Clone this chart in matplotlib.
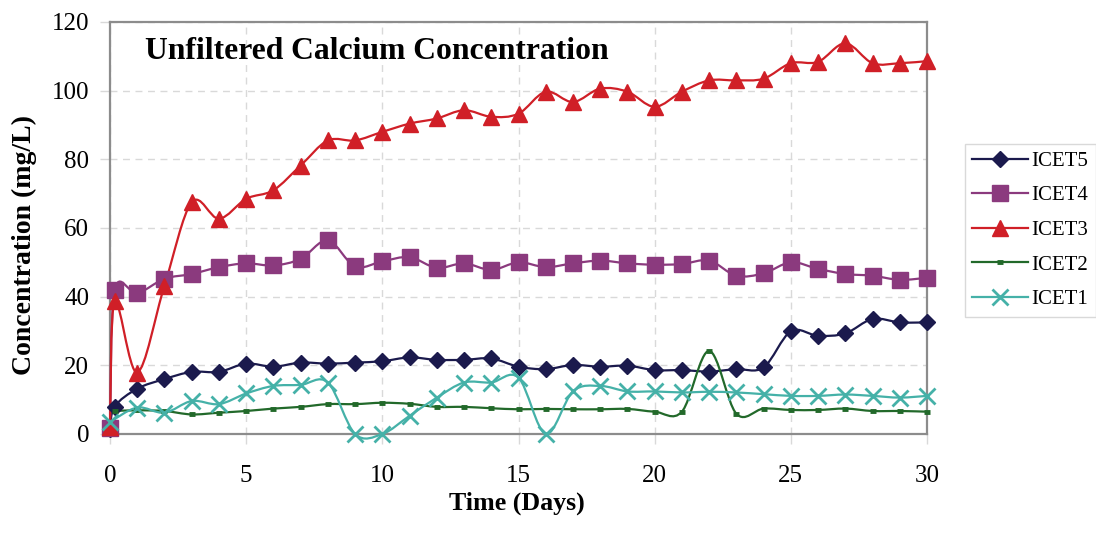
import matplotlib
matplotlib.use('Agg')
import numpy as np
import matplotlib.pyplot as plt
from matplotlib.path import Path
from matplotlib.patches import PathPatch
from matplotlib.lines import Line2D

plt.rcParams['font.family'] = ['Liberation Serif', 'DejaVu Serif']

# sampling days (0.17 = first sample a few hours after start)
days_a = [0, 0.17] + list(range(1, 31))
days_icet2 = [0.17] + list(range(1, 31))
days_icet1 = [0] + list(range(1, 31))

# calcium concentration, mg/L
icet5 = [1.5, 8.0, 13.2, 16.0, 18.1, 18.1, 20.5, 19.6, 20.8, 20.5, 20.8,
         21.2, 22.3, 21.6, 21.6, 22.0, 19.6, 18.9, 20.1, 19.6, 19.9,
         18.6, 18.6, 18.2, 18.9, 19.4, 29.9, 28.6, 29.3, 33.5, 32.5, 32.5]
icet4 = [1.8, 41.8, 41.0, 45.2, 46.6, 48.6, 49.7, 49.1, 51.0, 56.4, 48.8,
         50.3, 51.5, 48.4, 49.7, 47.8, 50.0, 48.6, 49.7, 50.5, 49.7,
         49.3, 49.5, 50.5, 46.1, 46.8, 50.0, 48.1, 46.6, 46.1, 44.9, 45.5]
icet3 = [2.0, 38.8, 17.9, 43.2, 67.5, 62.7, 68.5, 71.0, 78.2, 85.5, 85.5,
         88.0, 90.4, 91.9, 94.3, 92.4, 93.3, 99.7, 96.7, 100.6, 99.7,
         95.3, 99.7, 103.0, 103.0, 103.5, 108.0, 108.4, 113.8, 108.0, 108.0, 108.6]
icet2 = [6.7, 6.9, 6.7, 5.7, 6.2, 6.7, 7.4, 7.9, 8.7, 8.7,
         9.1, 8.8, 7.9, 7.9, 7.5, 7.2, 7.3, 7.2, 7.2, 7.3,
         6.5, 6.5, 24.2, 5.9, 7.4, 7.0, 7.0, 7.4, 6.7, 6.7, 6.5]
icet1 = [3.5, 7.7, 6.2, 9.6, 8.7, 11.8, 14.0, 14.3, 15.0, 0.0,
         0.0, 5.3, 10.6, 15.0, 15.0, 16.4, 0.0, 12.4, 14.0, 12.4,
         12.4, 12.1, 12.3, 12.1, 11.6, 11.1, 11.1, 11.5, 11.1, 10.6, 11.1]

series = [
    ('ICET5', days_a, icet5, '#1b1a4d', dict(marker='D', ms=8)),
    ('ICET4', days_a, icet4, '#8b3a7e', dict(marker='s', ms=11)),
    ('ICET3', days_a, icet3, '#d01f27', dict(marker='^', ms=12)),
    ('ICET2', days_icet2, icet2, '#22692a', dict(marker='_', ms=5, mew=3.5)),
    ('ICET1', days_icet1, icet1, '#45b1a8', dict(marker='x', ms=11, mew=2)),
]


def smooth_path(x, y):
    # cubic bezier through every point, tangents from neighbours (1/6 tension)
    pts = np.column_stack([x, y]).astype(float)
    n = len(pts)
    verts = [pts[0]]
    codes = [Path.MOVETO]
    for i in range(n - 1):
        p0 = pts[max(i - 1, 0)]
        p1 = pts[i]
        p2 = pts[i + 1]
        p3 = pts[min(i + 2, n - 1)]
        verts += [p1 + (p2 - p0) / 6.0, p2 - (p3 - p1) / 6.0, p2]
        codes += [Path.CURVE4] * 3
    return Path(verts, codes)


W, H = 1096, 533
fig = plt.figure(figsize=(W / 100, H / 100), dpi=100)
ax = fig.add_axes([110 / W, 1 - 434 / H, (927 - 110) / W, (434 - 22) / H])

handles = []
for name, xs, ys, color, mk in series:
    ax.add_patch(PathPatch(smooth_path(xs, ys), fill=False, edgecolor=color,
                           lw=1.6, clip_on=False, zorder=3))
    ax.plot(xs, ys, linestyle='none', color=color, clip_on=False, zorder=4, **mk)
    handles.append(Line2D([], [], color=color, lw=1.6, label=name, **mk))

ax.set_xlim(0, 30)
ax.set_ylim(0, 120)
ax.set_xticks(range(0, 31, 5))
ax.set_yticks(range(0, 121, 20))
ax.grid(True, color='#d9d9d9', linestyle=(0, (5, 4)), lw=1)
ax.set_axisbelow(True)
for sp in ax.spines.values():
    sp.set_color('#8c8c8c')
    sp.set_linewidth(1.6)
ax.tick_params(axis='both', length=7, width=1, color='#d9d9d9', labelsize=18)
ax.tick_params(axis='x', pad=15)
ax.tick_params(axis='y', pad=8)

fig.text(145 / W, 1 - 59 / H, 'Unfiltered Calcium Concentration',
         fontsize=22.8, fontweight='bold', va='baseline', ha='left')
fig.text(517 / W, 1 - 510 / H, 'Time (Days)', fontsize=18.7,
         fontweight='bold', va='baseline', ha='center')
fig.text(24 / W, 1 - 245 / H, 'Concentration (mg/L)', fontsize=20,
         fontweight='bold', rotation=90, va='center', ha='center')

leg = ax.legend(handles=handles, loc='upper left',
                bbox_to_anchor=(965 / W, 1 - 144 / H), bbox_transform=fig.transFigure,
                fontsize=15, frameon=True, fancybox=False, borderaxespad=0,
                borderpad=0.35, handlelength=2.65, handletextpad=0.2,
                labelspacing=0.72)
leg.get_frame().set_edgecolor('#d0d0d0')
leg.get_frame().set_linewidth(1)

fig.savefig('out.png', dpi=100)
